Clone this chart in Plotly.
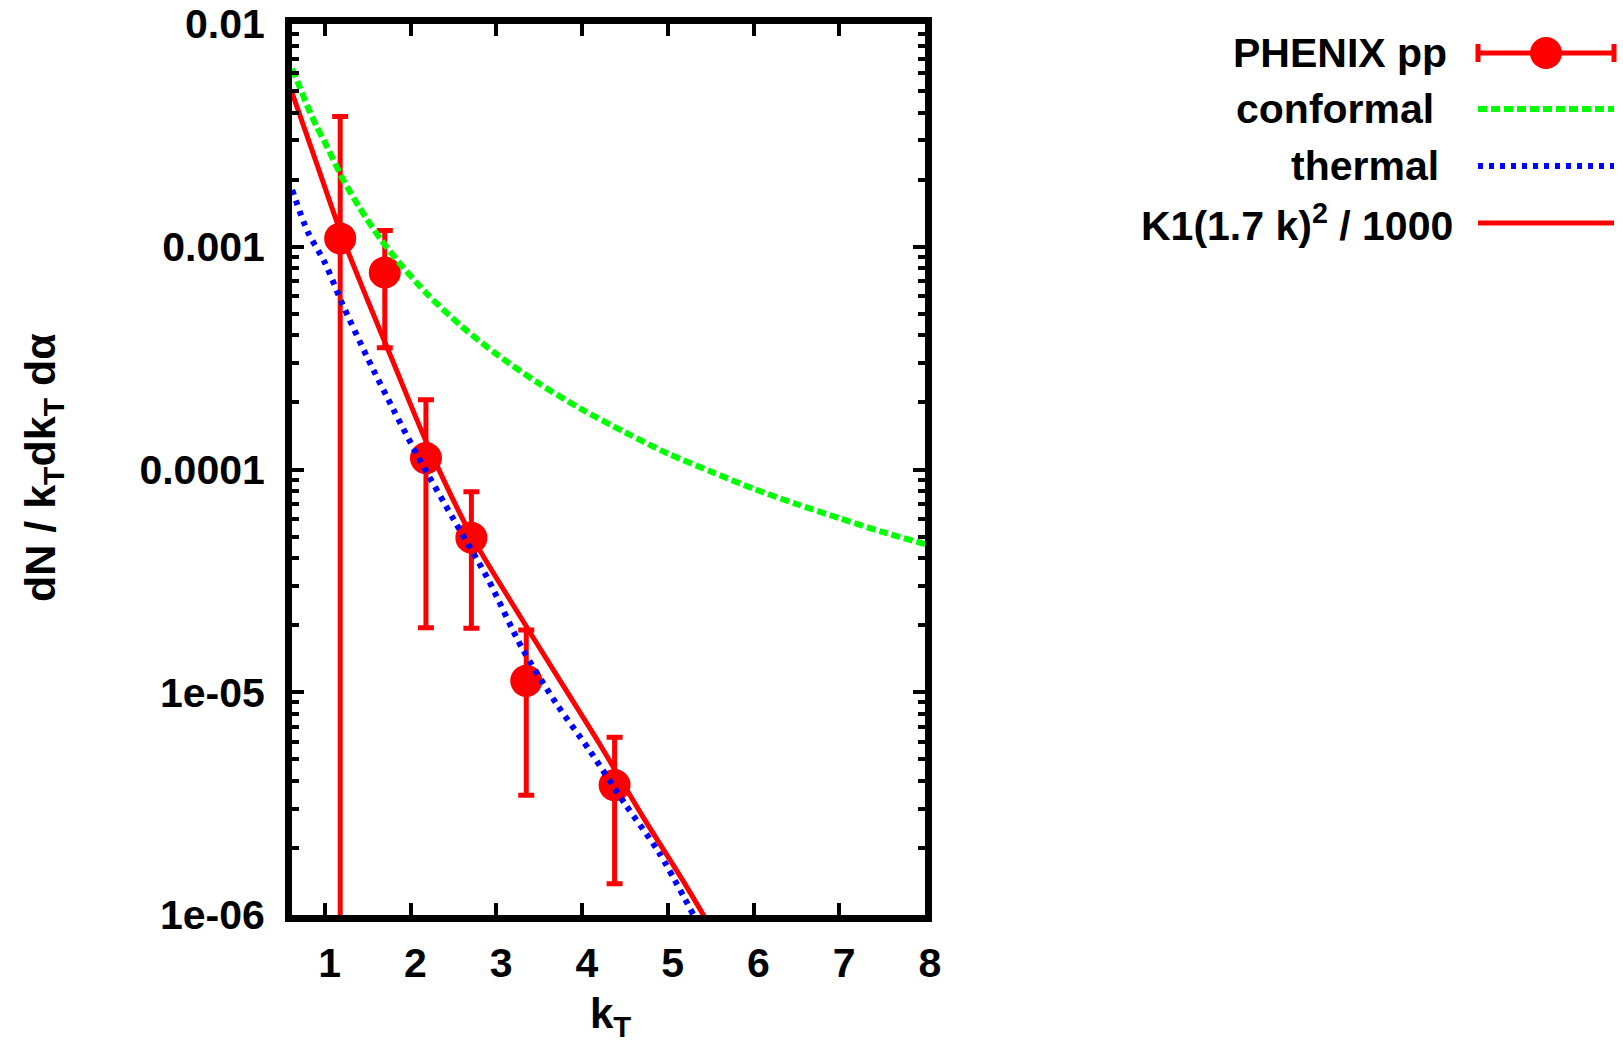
import plotly.graph_objects as go

# ---------------- data ----------------
kt_data = [1.18, 1.70, 2.18, 2.71, 3.35, 4.38]
dn_data = [1.09e-3, 7.67e-4, 1.125e-4, 4.94e-5, 1.125e-5, 3.83e-6]
dn_err = [2.75e-3, 4.15e-4, 9.3e-5, 3.0e-5, 7.8e-6, 2.45e-6]

kt_conformal = [0.62, 0.7, 0.8, 0.9, 1.0, 1.2, 1.4, 1.66, 1.9, 2.2, 2.6, 3.0,
                3.5, 4.0, 4.5, 5.0, 5.5, 6.0, 6.5, 7.0, 7.5, 8.0]
dn_conformal = [6.3e-3, 5.3e-3, 4.25e-3, 3.5e-3, 2.95e-3, 2.05e-3, 1.51e-3,
                1.07e-3, 8.2e-4, 6.1e-4, 4.38e-4, 3.3e-4, 2.43e-4, 1.86e-4,
                1.47e-4, 1.18e-4, 9.8e-5, 8.2e-5, 7.0e-5, 6.05e-5, 5.25e-5, 4.62e-5]

kt_thermal = [0.62, 0.8, 1.0, 1.2, 1.5, 1.8, 2.1, 2.5, 2.9, 3.3, 3.7, 4.1, 4.5, 4.9, 5.3]
dn_thermal = [1.8e-3, 1.17e-3, 8.5e-4, 5.6e-4, 3.16e-4, 1.86e-4, 1.12e-4, 6.0e-5,
              3.24e-5, 1.58e-5, 8.9e-6, 5.4e-6, 3.16e-6, 1.9e-6, 1.0e-6]

kt_k1 = [0.62, 0.9, 1.2, 1.5, 1.8, 2.2, 2.7, 3.2, 3.7, 4.2, 4.7, 5.2, 5.45]
dn_k1 = [4.9e-3, 2.4e-3, 1.12e-3, 5.75e-4, 3.02e-4, 1.29e-4, 5.13e-5, 2.45e-5,
         1.2e-5, 5.9e-6, 2.8e-6, 1.38e-6, 9.5e-7]

x_ticks = [1, 2, 3, 4, 5, 6, 7, 8]
y_ticks = [1e-6, 1e-5, 1e-4, 1e-3, 1e-2]
y_ticktext = ["1e-06", "1e-05", "0.0001", "0.001", "0.01"]

legend_labels = ["PHENIX pp", "conformal", "thermal", "K1(1.7 k)<sup>2</sup> / 1000"]

# ---------------- layout geometry ----------------
W, H = 1623, 1047
L, R, T, B = 292, 925, 24, 915
RED, GREEN, BLUE = "#ff0000", "#00ff00", "#0000ff"
FONT = "Liberation Sans, Arial, sans-serif"
FS = 41


def px(xp):
    return (xp - L) / (R - L)


def py(yp):
    return (B - yp) / (B - T)


minor_y = [k * 10.0 ** e for e in range(-6, -2) for k in range(2, 10)]

fig = go.Figure()

fig.add_trace(go.Scatter(
    x=kt_data, y=dn_data, mode="markers",
    marker=dict(color=RED, size=32, symbol="circle"),
    error_y=dict(type="data", array=dn_err, visible=True, color=RED,
                 thickness=5, width=8),
    showlegend=False))

fig.add_trace(go.Scatter(
    x=kt_conformal, y=dn_conformal, mode="lines",
    line=dict(color=GREEN, width=6, dash="9px,4px", shape="spline", smoothing=0.8),
    showlegend=False))

fig.add_trace(go.Scatter(
    x=kt_thermal, y=dn_thermal, mode="lines",
    line=dict(color=BLUE, width=6, dash="5px,6px", shape="spline", smoothing=0.8),
    showlegend=False))

fig.add_trace(go.Scatter(
    x=kt_k1, y=dn_k1, mode="lines",
    line=dict(color=RED, width=5, shape="spline", smoothing=0.8),
    showlegend=False))

axis_common = dict(
    showline=True, linecolor="black", linewidth=7, mirror="allticks",
    ticks="inside", ticklen=12, tickwidth=4, tickcolor="black",
    showgrid=False, zeroline=False, automargin=False,
    tickfont=dict(family=FONT, size=FS, color="black", weight="bold"),
)

fig.update_xaxes(range=[0.618, 8], tickmode="array", tickvals=x_ticks,
                 ticktext=[str(v) for v in x_ticks], ticklabelstandoff=6,
                 ticklabelshift=5, **axis_common)
fig.update_yaxes(type="log", range=[-6, -2], tickmode="array", tickvals=y_ticks,
                 ticktext=y_ticktext, ticklabelstandoff=12,
                 minor=dict(tickmode="array", tickvals=minor_y, ticks="inside",
                            ticklen=7, tickwidth=4, tickcolor="black"),
                 **axis_common)

annotations = [
    dict(x=px(43), y=py(468), xref="paper", yref="paper", xanchor="center",
         yanchor="middle",
         text="dN / k<sub>T</sub>dk<sub>T</sub> dα", textangle=-90, showarrow=False,
         font=dict(family=FONT, size=43, color="black", weight="bold")),
    dict(x=px(610), y=py(1016), xref="paper", yref="paper", xanchor="center",
         yanchor="middle",
         text="k<sub>T</sub>", showarrow=False,
         font=dict(family=FONT, size=42, color="black", weight="bold")),
]

# custom legend (text right-aligned, sample on the right as in gnuplot)
row_y = [53, 109, 166, 223]
text_right = [1449, 1436, 1441, 1455]
for lab, yy, xr in zip(legend_labels, row_y, text_right):
    annotations.append(dict(
        x=px(xr), y=py(yy), xref="paper", yref="paper", xanchor="right",
        yanchor="middle", text=lab, showarrow=False,
        font=dict(family=FONT, size=FS, color="black", weight="bold")))

sx0, sx1 = 1478, 1614
shapes = [
    # PHENIX pp sample
    dict(type="line", xref="paper", yref="paper", x0=px(sx0), x1=px(sx1),
         y0=py(row_y[0]), y1=py(row_y[0]), line=dict(color=RED, width=5)),
    dict(type="line", xref="paper", yref="paper", x0=px(sx0), x1=px(sx0),
         y0=py(row_y[0] - 9), y1=py(row_y[0] + 9), line=dict(color=RED, width=5)),
    dict(type="line", xref="paper", yref="paper", x0=px(sx1), x1=px(sx1),
         y0=py(row_y[0] - 9), y1=py(row_y[0] + 9), line=dict(color=RED, width=5)),
    dict(type="circle", xref="paper", yref="paper",
         x0=px((sx0 + sx1) / 2 - 16), x1=px((sx0 + sx1) / 2 + 16),
         y0=py(row_y[0] - 16), y1=py(row_y[0] + 16),
         fillcolor=RED, line=dict(color=RED, width=0)),
    dict(type="line", xref="paper", yref="paper", x0=px(sx0), x1=px(sx1),
         y0=py(row_y[1]), y1=py(row_y[1]),
         line=dict(color=GREEN, width=6, dash="9px,4px")),
    dict(type="line", xref="paper", yref="paper", x0=px(sx0), x1=px(sx1),
         y0=py(row_y[2]), y1=py(row_y[2]),
         line=dict(color=BLUE, width=6, dash="5px,6px")),
    dict(type="line", xref="paper", yref="paper", x0=px(sx0), x1=px(sx1),
         y0=py(row_y[3]), y1=py(row_y[3]), line=dict(color=RED, width=5)),
]

fig.update_layout(
    width=W, height=H, autosize=False,
    margin=dict(l=L, r=W - R, t=T, b=H - B, pad=0, autoexpand=False),
    paper_bgcolor="white", plot_bgcolor="white",
    showlegend=False,
    annotations=annotations, shapes=shapes,
    font=dict(family=FONT, size=FS, color="black"),
)

fig.write_html("out.html")
